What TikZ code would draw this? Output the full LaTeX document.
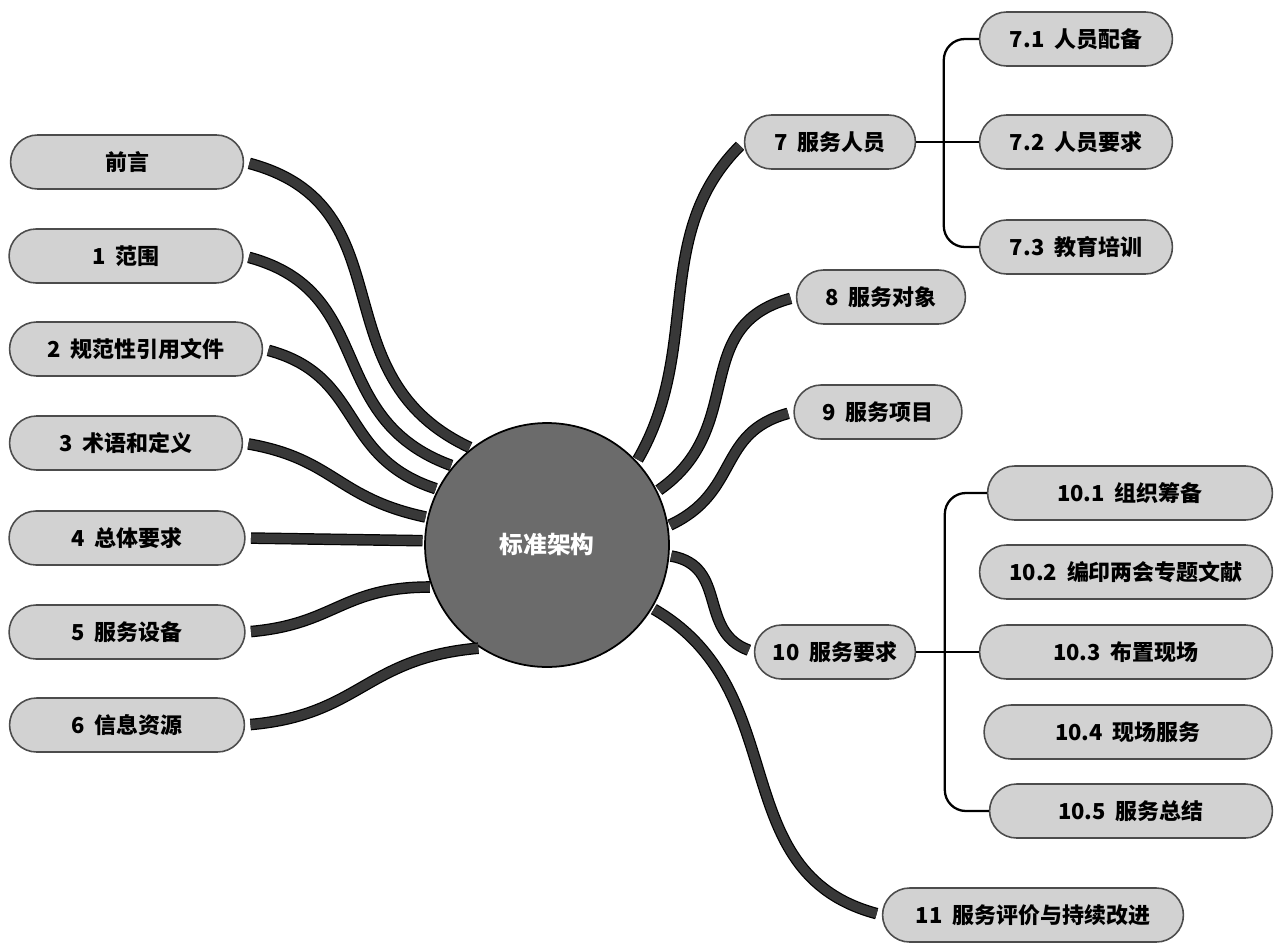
\documentclass[tikz,border=0pt]{standalone}
\usepackage{fontspec}
\setmainfont{Noto Sans CJK SC}
\usetikzlibrary{shapes.misc}

\tikzset{
  topic/.style={rounded rectangle, draw=black!70, line width=0.9pt, fill=gray!35,
    minimum height=1.08cm, inner xsep=6pt, font=\bfseries\fontsize{12.5}{14}\selectfont},
  hub/.style={circle, draw=black, line width=1pt, fill=black!58, minimum size=4.88cm,
    inner sep=0pt, text=white, font=\bfseries\fontsize{13.5}{15}\selectfont},
  trunk/.style={draw=black, line width=0.7pt, double=black!78, double distance=5.2pt,
    shorten <=3pt, shorten >=1pt},
  bracket/.style={black, line width=1.3pt, rounded corners=12pt},
}
\newcommand{\gap}{\hspace{0.45em}}

\begin{document}
\begin{tikzpicture}[x=0.02cm, y=0.02cm]
  \useasboundingbox (0,0) rectangle (1274,-943);
  \clip (0,0) rectangle (1274,-943);

  % centre
  \node[hub] (ctr) at (547,-545) {标准架构};

  % left topics
  \node[topic, minimum width=5.08cm] (qianyan) at (127,-162) {前言};
  \node[topic, minimum width=5.10cm] (fanwei) at (126,-256) {1\gap 范围};
  \node[topic, minimum width=5.48cm] (guifan) at (136,-349) {2\gap 规范性引用文件};
  \node[topic, minimum width=5.08cm] (shuyu) at (126,-443) {3\gap 术语和定义};
  \node[topic, minimum width=5.14cm] (zongti) at (127,-538) {4\gap 总体要求};
  \node[topic, minimum width=5.14cm] (shebei) at (127,-632) {5\gap 服务设备};
  \node[topic, minimum width=5.12cm] (xinxi) at (127,-725) {6\gap 信息资源};

  % right topics
  \node[topic, minimum width=3.84cm] (renyuan) at (830,-142) {7\gap 服务人员};
  \node[topic, minimum width=4.28cm] (r71) at (1076,-39) {7.1\gap 人员配备};
  \node[topic, minimum width=4.28cm] (r72) at (1076,-142) {7.2\gap 人员要求};
  \node[topic, minimum width=4.28cm] (r73) at (1076,-247) {7.3\gap 教育培训};
  \node[topic, minimum width=3.80cm] (duixiang) at (881,-297) {8\gap 服务对象};
  \node[topic, minimum width=3.78cm] (xiangmu) at (878,-412) {9\gap 服务项目};
  \node[topic, minimum width=3.64cm] (yaoqiu) at (835,-652) {10\gap 服务要求};
  \node[topic, minimum width=6.12cm] (y101) at (1130,-493) {10.1\gap 组织筹备};
  \node[topic, minimum width=6.28cm] (y102) at (1126,-572) {10.2\gap 编印两会专题文献};
  \node[topic, minimum width=6.28cm] (y103) at (1126,-652) {10.3\gap 布置现场};
  \node[topic, minimum width=6.18cm] (y104) at (1128,-732) {10.4\gap 现场服务};
  \node[topic, minimum width=6.08cm] (y105) at (1131,-811) {10.5\gap 服务总结};
  \node[topic, minimum width=6.44cm] (pingjia) at (1033,-915) {11\gap 服务评价与持续改进};

  % trunks to the centre
  \draw[trunk] (qianyan.east) to[out=-15, in=155, looseness=1.2] (ctr.128);
  \draw[trunk] (fanwei.east) to[out=-15, in=160, looseness=1.2] (ctr.140);
  \draw[trunk] (guifan.east) to[out=-15, in=162, looseness=1.2] (ctr.153);
  \draw[trunk] (shuyu.east) to[out=-10, in=168, looseness=1.2] (ctr.167);
  \draw[trunk] (zongti.east) -- (ctr.178);
  \draw[trunk] (shebei.east) to[out=5, in=180, looseness=1.2] (ctr.200);
  \draw[trunk] (xinxi.east) to[out=5, in=185, looseness=1.2] (ctr.237);
  \draw[trunk] (renyuan.west) to[out=225, in=60] (ctr.43);
  \draw[trunk] (duixiang.west) to[out=195, in=35, looseness=1.2] (ctr.26);
  \draw[trunk] (xiangmu.west) to[out=195, in=25, looseness=1.2] (ctr.9);
  \draw[trunk] (yaoqiu.west) to[out=160, in=-10, looseness=1.2] (ctr.-5);
  \draw[trunk] (pingjia.west) to[out=165, in=-30, looseness=1.1] (ctr.-31);

  % sub-topic brackets
  \draw[bracket] (r71.west) -- ++(-35,0) |- (r73.west);
  \draw[bracket] (renyuan.east) -- (r72.west);
  \draw[bracket] (y101.west) -- ++(-42,0) |- (y105.west);
  \draw[bracket] (yaoqiu.east) -- (y103.west);
\end{tikzpicture}
\end{document}
